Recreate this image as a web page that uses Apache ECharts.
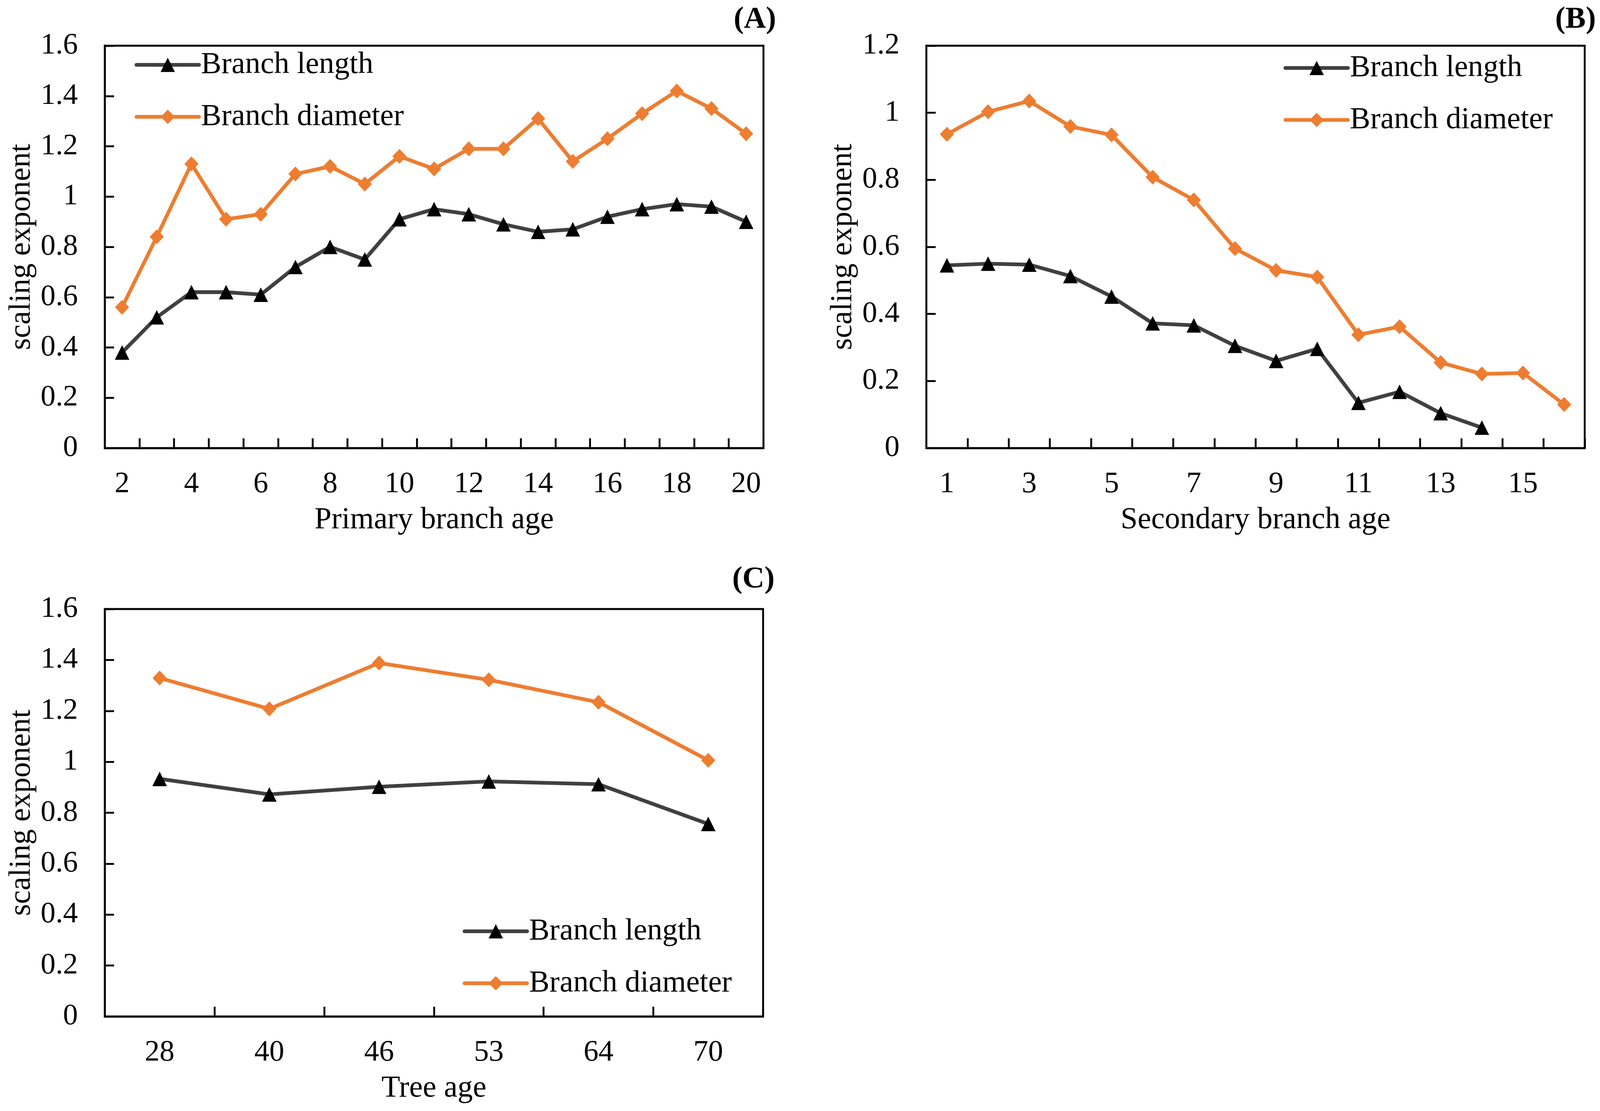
<!DOCTYPE html>
<html>
<head>
<meta charset="utf-8">
<script src="https://cdn.jsdelivr.net/npm/echarts@6/dist/echarts.min.js"></script>
<style>
html,body{margin:0;padding:0;background:#fff;overflow:hidden;}
#chart{width:100vw;height:100vh;}
</style>
</head>
<body>
<div id="chart"></div>
<script>
// ---- Data ----
const primaryAges = ['2','3','4','5','6','7','8','9','10','11','12','13','14','15','16','17','18','19','20'];
const primaryLength = [0.38,0.52,0.62,0.62,0.61,0.72,0.80,0.75,0.91,0.95,0.93,0.89,0.86,0.87,0.92,0.95,0.97,0.96,0.90];
const primaryDiameter = [0.56,0.84,1.13,0.91,0.93,1.09,1.12,1.05,1.16,1.11,1.19,1.19,1.31,1.14,1.23,1.33,1.42,1.35,1.25];

const secondaryAges = ['1','2','3','4','5','6','7','8','9','10','11','12','13','14','15','16'];
const secondaryLength = [0.545,0.55,0.547,0.513,0.452,0.372,0.366,0.305,0.26,0.296,0.135,0.168,0.104,0.061,null,null];
const secondaryDiameter = [0.936,1.003,1.035,0.959,0.934,0.808,0.74,0.595,0.53,0.51,0.338,0.362,0.255,0.221,0.224,0.13];

const treeAges = ['28','40','46','53','64','70'];
const treeLength = [0.933,0.872,0.902,0.923,0.912,0.756];
const treeDiameter = [1.329,1.208,1.388,1.322,1.234,1.006];

const seriesNames = ['Branch length','Branch diameter'];
const panelTitles = ['(A)','(B)','(C)'];
const xNames = ['Primary branch age','Secondary branch age','Tree age'];
const yName = 'scaling exponent';

// ---- Layout scaling (design size 4292 x 2844) ----
const W = window.innerWidth || 4292;
const H = window.innerHeight || 2844;
const sx = W / 4292, sy = H / 2844, sf = Math.min(sx, sy);
const X = v => v * sx, Y = v => v * sy, F = v => v * sf;

// ---- Styles ----
const FONT = 'Liberation Serif';
const GRAY = '#404040';
const ORANGE = '#ED7D31';
const grids = [
  {left: X(281), top: Y(117), width: X(1767), height: Y(1030)},
  {left: X(2485), top: Y(117), width: X(1766), height: Y(1030)},
  {left: X(281), top: Y(1559), width: X(1766), height: Y(1043)}
];

function xAxis(idx, data, labelInterval, name) {
  return {
    type: 'category', gridIndex: idx, data: data, boundaryGap: true,
    name: name, nameLocation: 'middle', nameGap: Y(145),
    nameTextStyle: {fontFamily: FONT, fontSize: F(82), color: '#000'},
    axisLine: {show: true, lineStyle: {color: '#000', width: F(5)}},
    axisTick: {show: true, inside: true, length: Y(25), interval: 0, alignWithLabel: false, lineStyle: {color: '#000', width: F(5)}},
    axisLabel: {interval: labelInterval, margin: Y(55), fontFamily: FONT, fontSize: F(80), color: '#000'},
    splitLine: {show: false}
  };
}
function yAxis(idx, max) {
  return {
    type: 'value', gridIndex: idx, min: 0, max: max, interval: 0.2,
    name: yName, nameLocation: 'middle', nameGap: X(182), nameRotate: 90,
    nameTextStyle: {fontFamily: FONT, fontSize: F(82), color: '#000'},
    axisLine: {show: true, lineStyle: {color: '#000', width: F(5)}},
    axisTick: {show: true, inside: true, length: X(25), lineStyle: {color: '#000', width: F(5)}},
    axisLabel: {margin: X(72), fontFamily: FONT, fontSize: F(80), color: '#000'},
    splitLine: {show: false}
  };
}
function lenSeries(idx, data) {
  return {
    name: seriesNames[0], type: 'line', xAxisIndex: idx, yAxisIndex: idx, data: data,
    symbol: 'triangle', symbolSize: F(39), showAllSymbol: true, connectNulls: false,
    lineStyle: {color: GRAY, width: F(10)}, itemStyle: {color: '#000'}, z: 3
  };
}
function diaSeries(idx, data) {
  return {
    name: seriesNames[1], type: 'line', xAxisIndex: idx, yAxisIndex: idx, data: data,
    symbol: 'diamond', symbolSize: [F(38), F(40)], showAllSymbol: true,
    lineStyle: {color: ORANGE, width: F(10)}, itemStyle: {color: ORANGE}, z: 2
  };
}
function legend(left, top) {
  return {
    data: seriesNames, orient: 'vertical', left: X(left), top: Y(top),
    itemWidth: X(168), itemHeight: F(48), itemGap: Y(43), padding: 0, selectedMode: false,
    lineStyle: {width: F(10), cap: 'round'},
    textStyle: {fontFamily: FONT, fontSize: F(82), color: '#000', lineHeight: Y(90)}
  };
}
function title(text, right, top) {
  return {text: text, right: X(right), top: Y(top), padding: 0,
    textStyle: {fontFamily: FONT, fontSize: F(82), fontWeight: 'bold', color: '#000'}};
}

const option = {
  backgroundColor: '#fff',
  animation: false,
  title: [
    title(panelTitles[0], 4292 - 2082, 12),
    title(panelTitles[1], 11, 12),
    title(panelTitles[2], 4292 - 2078, 1445)
  ],
  legend: [legend(361, 121), legend(3443, 129), legend(1241, 2339)],
  grid: grids.map(g => Object.assign({show: true, borderColor: '#000', borderWidth: F(5), backgroundColor: 'transparent'}, g)),
  xAxis: [
    xAxis(0, primaryAges, 1, xNames[0]),
    xAxis(1, secondaryAges, 1, xNames[1]),
    xAxis(2, treeAges, 0, xNames[2])
  ],
  yAxis: [yAxis(0, 1.6), yAxis(1, 1.2), yAxis(2, 1.6)],
  series: [
    diaSeries(0, primaryDiameter), lenSeries(0, primaryLength),
    diaSeries(1, secondaryDiameter), lenSeries(1, secondaryLength),
    diaSeries(2, treeDiameter), lenSeries(2, treeLength)
  ]
};
const chart = echarts.init(document.getElementById('chart'), null, {renderer: 'canvas'});
chart.setOption(option);
</script>
</body>
</html>
